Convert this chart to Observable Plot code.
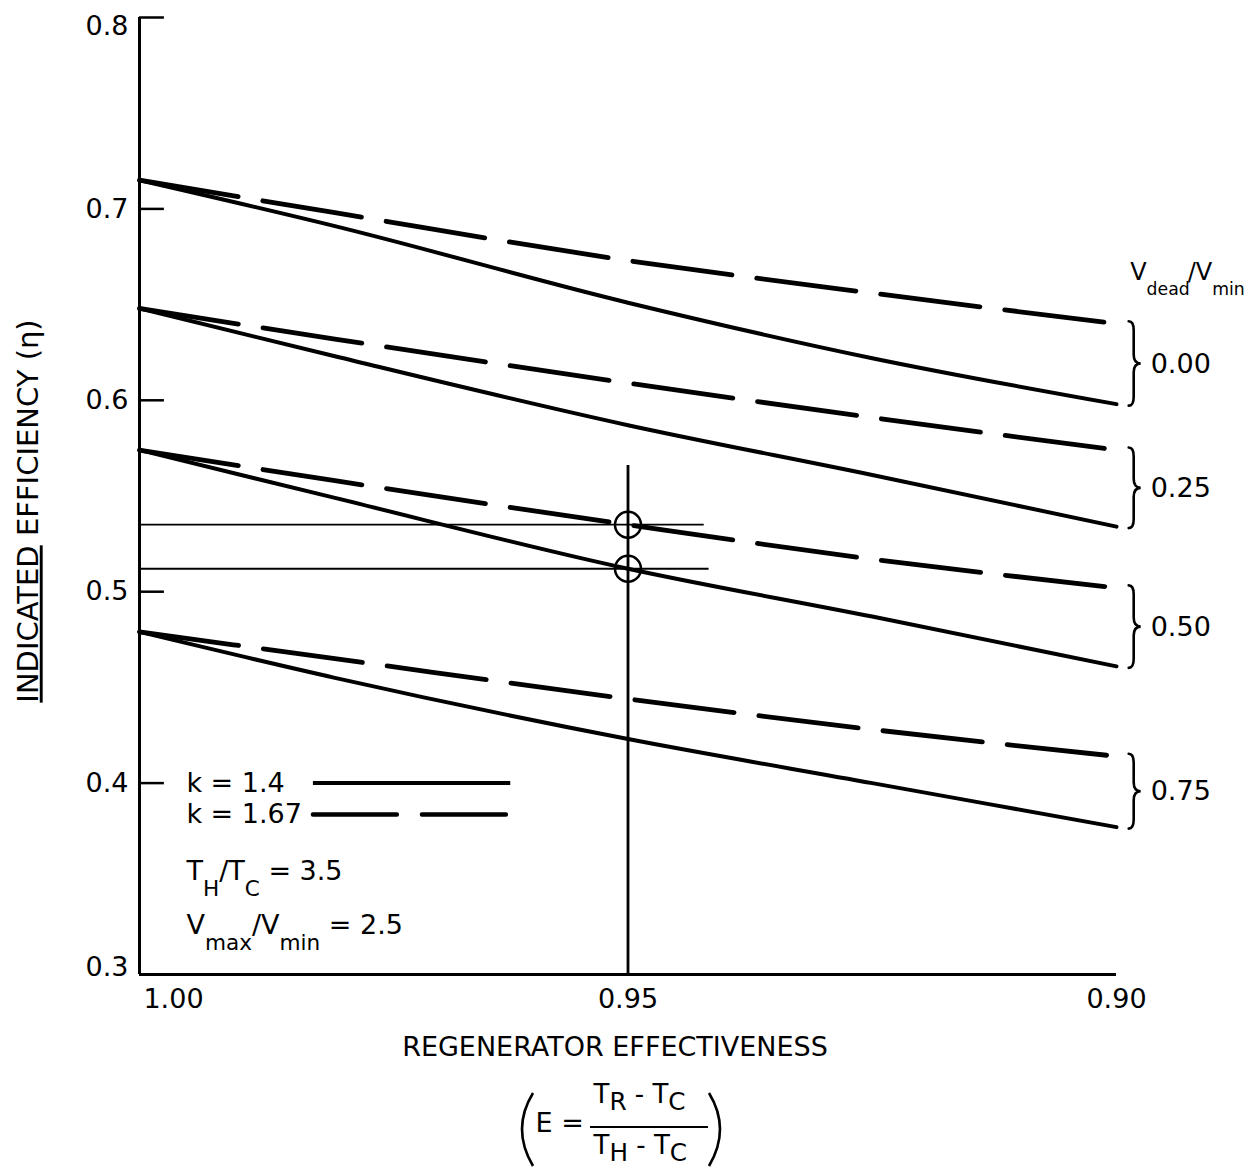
<!DOCTYPE html>
<html>
<head>
<meta charset="utf-8">
<script src="https://cdn.jsdelivr.net/npm/d3@7"></script>
<script src="https://cdn.jsdelivr.net/npm/@observablehq/plot@0.6"></script>
<style>
  body { margin: 0; background: #fff; }
  #wrap { width: 1254px; height: 1176px; }
  svg { display: block; }
</style>
</head>
<body>
<div id="wrap"></div>
<script>
// ---------- data ----------
const effectiveness = [1.00, 0.98, 0.95, 0.925, 0.90];
const vdeadLabels = ["0.00", "0.25", "0.50", "0.75"];

// k = 1.4 (solid)
const etaK14_000 = [0.715, 0.691, 0.651, 0.622, 0.598];
const etaK14_025 = [0.648, 0.623, 0.587, 0.561, 0.534];
const etaK14_050 = [0.574, 0.549, 0.512, 0.487, 0.461];
const etaK14_075 = [0.479, 0.455, 0.423, 0.400, 0.377];
// k = 1.67 (dashed)
const etaK167_000 = [0.715, 0.698, 0.673, 0.656, 0.640];
const etaK167_025 = [0.648, 0.632, 0.609, 0.591, 0.574];
const etaK167_050 = [0.574, 0.558, 0.535, 0.517, 0.502];
const etaK167_075 = [0.479, 0.465, 0.444, 0.428, 0.414];

const xTicks = [1.00, 0.95, 0.90];
const yTicks = [0.3, 0.4, 0.5, 0.6, 0.7, 0.8];

// worked-example markers at E = 0.95
const markerE = 0.95;
const markerEta = [0.535, 0.512];
const markerLineEnd = [0.9422, 0.9417];
const markerTop = 0.566;

// legend
const legendLabels = ["k = 1.4", "k = 1.67"];
const legendEta = [0.400, 0.3836];
const paramLabels = ["T_{H}/T_{C} = 3.5", "V_{max}/V_{min} = 2.5"];
const paramEta = [0.3538, 0.3256];
const rightHeader = "V_{dead}/V_{min}";

// ---------- build tables ----------
const solidSeries = [etaK14_000, etaK14_025, etaK14_050, etaK14_075];
const dashedSeries = [etaK167_000, etaK167_025, etaK167_050, etaK167_075];
const toRows = (series) => series.flatMap((vals, g) =>
  effectiveness.map((e, i) => ({E: e, eta: vals[i], group: vdeadLabels[g]})));
const solidRows = toRows(solidSeries);
const dashedRows = toRows(dashedSeries);
const last = effectiveness.length - 1;
const groupEnds = vdeadLabels.map((lab, g) => ({
  label: lab,
  top: dashedSeries[g][last],
  bottom: solidSeries[g][last],
  mid: (dashedSeries[g][last] + solidSeries[g][last]) / 2
}));
const markerRows = markerEta.map((eta, i) => ({E: markerE, eta, end: markerLineEnd[i]}));

// layout constants (annotation placement)
const X0 = xTicks[0], X1 = xTicks[xTicks.length - 1];
const Y0 = yTicks[0], Y1 = yTicks[yTicks.length - 1];
const tickLenE = 0.00255;
const legendTextE = 0.9952, legendLineFrom = 0.9822, legendLineTo = 0.9620;
const braceE = 0.8987, groupLabelE = 0.8965, headerE = 0.8986, headerEta = 0.6668;

// brace mark (custom render using the plot's scales)
const braceMark = (index, scales) => {
  const g = d3.create("svg:g")
    .attr("fill", "none").attr("stroke", "black")
    .attr("stroke-width", 2.6).attr("stroke-linecap", "round");
  for (const ge of groupEnds) {
    const y1 = scales.y(ge.top) - 2, y2 = scales.y(ge.bottom) + 2;
    const x0 = scales.x(braceE), xc = x0 + 5, xt = x0 + 12;
    const m = (y1 + y2) / 2, r = 9;
    g.append("path").attr("d",
      `M${x0},${y1}Q${xc},${y1} ${xc},${y1 + r}L${xc},${m - r}Q${xc},${m} ${xt},${m}` +
      `Q${xc},${m} ${xc},${m + r}L${xc},${y2 - r}Q${xc},${y2} ${x0},${y2}`);
  }
  return g.node();
};

// formula parentheses and fraction bar (below the axis)
const formulaMark = (index, scales, values, dims) => {
  const bx = dims.marginLeft, by = dims.height - dims.marginBottom;
  const g = d3.create("svg:g").attr("fill", "none").attr("stroke", "black");
  g.append("path").attr("stroke-width", 2.6)
    .attr("d", `M${bx + 394},${by + 119}Q${bx + 372},${by + 155} ${bx + 394},${by + 192}`);
  g.append("path").attr("stroke-width", 2.6)
    .attr("d", `M${bx + 570},${by + 119}Q${bx + 592},${by + 155} ${bx + 570},${by + 192}`);
  g.append("path").attr("stroke-width", 2)
    .attr("d", `M${bx + 451},${by + 153}H${bx + 569}`);
  return g.node();
};

const plot = Plot.plot({
  width: 1254,
  height: 1176,
  marginLeft: 139,
  marginRight: 138,
  marginTop: 17,
  marginBottom: 202,
  x: {domain: [X0, X1], axis: null},
  y: {domain: [Y0, Y1], axis: null},
  style: {fontFamily: "'DejaVu Sans', sans-serif", fontSize: "27px", color: "black", background: "white", overflow: "visible"},
  marks: [
    // axes
    Plot.ruleX([X0], {y1: Y0, y2: Y1, strokeWidth: 3}),
    Plot.ruleY([Y0], {x1: X0, x2: X1, strokeWidth: 3}),
    Plot.ruleY(yTicks.slice(1), {x1: X0, x2: X0 - tickLenE, strokeWidth: 2.5}),
    Plot.text(yTicks.slice(1, -1), {x: X0, y: d => d, text: d => d.toFixed(1), textAnchor: "end", dx: -11, fontSize: 27}),
    Plot.text(yTicks.slice(-1), {x: X0, y: d => d, text: d => d.toFixed(1), textAnchor: "end", dx: -11, dy: 9, fontSize: 27}),
    Plot.text(yTicks.slice(0, 1), {x: X0, y: d => d, text: d => d.toFixed(1), textAnchor: "end", dx: -11, dy: -7, fontSize: 27}),
    Plot.text(xTicks.slice(1), {x: d => d, y: Y0, text: d => d.toFixed(2), dy: 25, fontSize: 27}),
    Plot.text(xTicks.slice(0, 1), {x: d => d, y: Y0, text: d => d.toFixed(2), dx: 34, dy: 25, fontSize: 27}),

    // axis titles
    Plot.text(["INDICATED EFFICIENCY (η)"], {text: d => d, frameAnchor: "left", textAnchor: "middle", rotate: -90, dx: -111, dy: 15, fontSize: 29}),
    Plot.text(["REGENERATOR EFFECTIVENESS"], {text: d => d, frameAnchor: "bottom", textAnchor: "middle", dx: -13, dy: 81, fontSize: 27}),
    Plot.text(["E ="], {text: d => d, frameAnchor: "bottom-left", textAnchor: "start", dx: 396, dy: 157, fontSize: 27}),
    Plot.text(["T_{R} - T_{C}"], {text: d => d, frameAnchor: "bottom-left", textAnchor: "start", dx: 454, dy: 128, fontSize: 26}),
    Plot.text(["T_{H} - T_{C}"], {text: d => d, frameAnchor: "bottom-left", textAnchor: "start", dx: 454, dy: 179, fontSize: 26}),
    formulaMark,

    // worked example guides
    Plot.ruleY(markerRows, {y: "eta", x1: X0, x2: "end", strokeWidth: 1.8}),
    Plot.ruleX([markerE], {y1: Y0, y2: markerTop, strokeWidth: 2.8}),
    Plot.dot(markerRows, {x: "E", y: "eta", r: 13, stroke: "black", strokeWidth: 2.5, fill: "none"}),

    // curves
    Plot.line(solidRows, {x: "E", y: "eta", z: "group", curve: "monotone-x", stroke: "black", strokeWidth: 4}),
    Plot.line(dashedRows, {x: "E", y: "eta", z: "group", curve: "monotone-x", stroke: "black", strokeWidth: 4.8,
      strokeDasharray: "100,25", strokeLinecap: "round"}),

    // group braces and labels
    braceMark,
    Plot.text(groupEnds, {x: groupLabelE, y: "mid", text: "label", textAnchor: "start", fontSize: 27}),
    Plot.text([rightHeader], {text: d => d, x: headerE, y: headerEta, textAnchor: "start", fontSize: 24}),

    // legend
    Plot.text(legendLabels, {text: d => d, x: legendTextE, y: (d, i) => legendEta[i], textAnchor: "start", fontSize: 27}),
    Plot.ruleY(legendEta.slice(0, 1), {x1: legendLineFrom, x2: legendLineTo, strokeWidth: 4}),
    Plot.ruleY(legendEta.slice(1), {x1: legendLineFrom, x2: legendLineTo, strokeWidth: 4.4, strokeDasharray: "84,25", strokeLinecap: "round"}),
    Plot.text(paramLabels, {text: d => d, x: legendTextE, y: (d, i) => paramEta[i], textAnchor: "start", fontSize: 27})
  ]
});

// rich text: subscripts and underline
const NS = "http://www.w3.org/2000/svg";
const subShift = {"T_{R} - T_{C}": 7, "T_{H} - T_{C}": 7, "V_{dead}/V_{min}": 15};
const subScale = {"T_{R} - T_{C}": "0.95em", "T_{H} - T_{C}": "0.95em", "V_{dead}/V_{min}": "0.72em"};
const afterSubDx = {"V_{dead}/V_{min}": -2};
for (const t of plot.querySelectorAll("text")) {
  const s = t.textContent;
  if (s.startsWith("INDICATED")) {
    t.textContent = "";
    const u = document.createElementNS(NS, "tspan");
    u.style.textDecoration = "underline";
    u.textContent = "INDICATED";
    const rest = document.createElementNS(NS, "tspan");
    rest.textContent = s.slice(9);
    t.append(u, rest);
    continue;
  }
  if (!s.includes("_{")) continue;
  const shift = subShift[s] ?? 16;
  const size = subScale[s] ?? "0.8em";
  const adx = afterSubDx[s] ?? 0;
  const parts = s.split(/(_\{[^}]*\})/).filter(p => p);
  t.textContent = "";
  let down = false;
  for (const p of parts) {
    const sp = document.createElementNS(NS, "tspan");
    if (p.startsWith("_{")) {
      sp.textContent = p.slice(2, -1);
      sp.setAttribute("dy", shift);
      sp.style.fontSize = size;
      down = true;
    } else {
      sp.textContent = p;
      if (down) { sp.setAttribute("dy", -shift); if (adx) sp.setAttribute("dx", adx); down = false; }
    }
    t.append(sp);
  }
}

document.getElementById("wrap").append(plot);
</script>
</body>
</html>
